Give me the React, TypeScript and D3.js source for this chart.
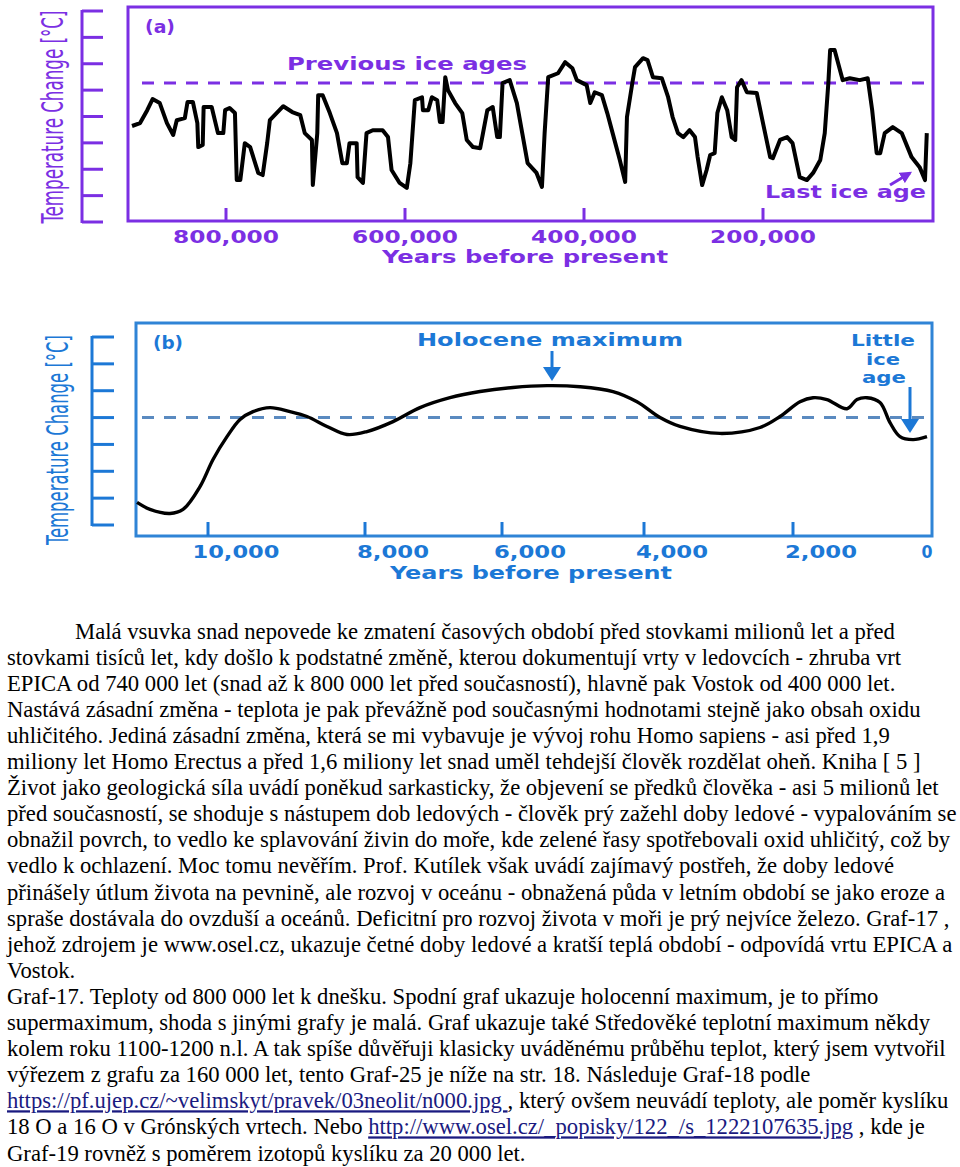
import React from 'react';
import * as d3 from 'd3';

// ---------- Data ----------
// Panel (a): thousands of years before present, temperature (tick units)
const epicaKyr = [905, 896, 888, 882, 874, 866, 859, 855, 846, 843, 837, 832, 831, 826, 825, 816, 809, 803, 801, 796, 790, 788, 784, 779, 773, 764, 759, 754, 751, 736, 726, 717, 712, 704, 703, 698, 697, 692, 684, 676, 670, 665, 662, 654, 653, 647, 643, 636, 625, 619, 615, 606, 598, 594, 589, 581, 580, 574, 570, 564, 561, 558, 555, 552, 544, 536, 531, 524, 516, 508, 502, 497, 494, 491, 483, 475, 469, 463, 453, 447, 444, 440, 429, 421, 413, 408, 397, 393, 388, 380, 374, 368, 360, 354, 352, 346, 343, 334, 329, 323, 313, 306, 301, 295, 289, 282, 276, 273, 268, 263, 259, 254, 251, 246, 240, 235, 231, 229, 224, 218, 207, 200, 192, 189, 181, 173, 167, 159, 151, 144, 136, 131, 127, 125, 120, 114, 111, 103, 92, 83, 78, 73, 69, 64, 55, 45, 34, 25, 19, 17];
const epicaTemp = [3.64, 3.75, 4.24, 4.66, 4.51, 3.75, 3.3, 3.86, 3.94, 4.55, 4.55, 3.75, 2.84, 2.92, 4.36, 4.36, 3.37, 3.37, 4.24, 4.32, 4.13, 1.59, 1.59, 2.99, 2.84, 1.86, 1.78, 2.99, 3.86, 4.39, 4.17, 4.05, 3.37, 3.11, 1.4, 3.37, 4.81, 4.81, 4.13, 3.37, 2.23, 2.23, 2.99, 2.99, 1.7, 1.48, 3.37, 3.48, 3.48, 3.22, 1.97, 1.48, 1.29, 2.23, 4.62, 4.73, 4.24, 4.24, 4.73, 4.62, 3.79, 3.79, 5.49, 5.0, 4.51, 4.13, 3.11, 2.84, 2.8, 4.24, 4.36, 3.22, 3.22, 5.27, 5.38, 4.51, 3.37, 2.23, 1.86, 1.33, 3.37, 5.49, 5.64, 6.06, 5.83, 5.38, 5.19, 4.51, 4.92, 4.81, 4.13, 3.37, 2.35, 1.52, 3.98, 5.27, 5.87, 6.21, 6.14, 5.49, 5.45, 4.73, 3.98, 3.37, 3.22, 3.48, 3.22, 2.46, 1.4, 1.97, 2.54, 2.61, 4.13, 4.73, 4.24, 3.22, 3.11, 5.11, 5.38, 4.92, 4.89, 3.75, 2.46, 2.42, 3.11, 3.22, 2.99, 1.7, 1.59, 1.86, 2.35, 3.37, 5.27, 6.52, 6.52, 5.76, 5.38, 5.45, 5.38, 5.45, 4.24, 2.61, 2.61, 3.37, 3.6, 3.37, 2.46, 2.08, 1.59, 3.37];
const previousIceAgeLevel = 5.27;

// Panel (b): years before present, temperature change (°C)
const holoceneYears = [10904, 10739, 10484, 10318, 10102, 9936, 9758, 9592, 9427, 9210, 8955, 8739, 8484, 8229, 7971, 7591, 7197, 6759, 6321, 5845, 5366, 4901, 4437, 4099, 3785, 3517, 2980, 2443, 2174, 1898, 1708, 1504, 1212, 1066, 920, 730, 584, 438, 248, 44];
const holoceneTemp = [-3.16, -3.42, -3.57, -3.42, -2.57, -1.56, -0.71, -0.07, 0.22, 0.37, 0.22, 0.04, -0.33, -0.63, -0.52, -0.15, 0.37, 0.74, 0.97, 1.12, 1.19, 1.15, 0.97, 0.59, 0.0, -0.33, -0.59, -0.37, 0.04, 0.59, 0.74, 0.67, 0.33, 0.67, 0.74, 0.56, -0.19, -0.71, -0.82, -0.71];
const holoceneLevel = 0;

// Axes
const xTicksA = [800, 600, 400, 200];
const yTicksA = [0, 1, 2, 3, 4, 5, 6, 7, 8];
const xTicksB = [10000, 8000, 6000, 4000, 2000, 0];
const yTicksB = [-4, -3, -2, -1, 0, 1, 2, 3];

const yLabel = 'Temperature Change [°C]';
const xLabel = 'Years before present';

// Body text
const bodyLines = [
  'Malá vsuvka snad nepovede ke zmatení časových období před stovkami milionů let a před',
  'stovkami tisíců let, kdy došlo k podstatné změně, kterou dokumentují vrty v ledovcích - zhruba vrt',
  'EPICA od 740 000 let (snad až k 800 000 let před současností), hlavně pak Vostok od 400 000 let.',
  'Nastává zásadní změna - teplota je pak převážně pod současnými hodnotami stejně jako obsah oxidu',
  'uhličitého. Jediná zásadní změna, která se mi vybavuje je vývoj rohu Homo sapiens - asi před 1,9',
  'miliony let Homo Erectus a před 1,6 miliony let snad uměl tehdejší člověk rozdělat oheň. Kniha [ 5 ]',
  'Život jako geologická síla uvádí poněkud sarkasticky, že objevení se předků člověka - asi 5 milionů let',
  'před současností, se shoduje s nástupem dob ledových - člověk prý zažehl doby ledové - vypalováním se',
  'obnažil povrch, to vedlo ke splavování živin do moře, kde zelené řasy spotřebovali oxid uhličitý, což by',
  'vedlo k ochlazení. Moc tomu nevěřím. Prof. Kutílek však uvádí zajímavý postřeh, že doby ledové',
  'přinášely útlum života na pevnině, ale rozvoj v oceánu - obnažená půda v letním období se jako eroze a',
  'spraše dostávala do ovzduší a oceánů. Deficitní pro rozvoj života v moři je prý nejvíce železo. Graf-17 ,',
  'jehož zdrojem je www.osel.cz, ukazuje četné doby ledové a kratší teplá období - odpovídá vrtu EPICA a',
  'Vostok.',
  'Graf-17. Teploty od 800 000 let k dnešku. Spodní graf ukazuje holocenní maximum, je to přímo',
  'supermaximum, shoda s jinými grafy je malá. Graf ukazuje také Středověké teplotní maximum někdy',
  'kolem roku 1100-1200 n.l. A tak spíše důvěřuji klasicky uváděnému průběhu teplot, který jsem vytvořil',
  'výřezem z grafu za 160 000 let, tento Graf-25 je níže na str. 18. Následuje Graf-18 podle',
  'https://pf.ujep.cz/~velimskyt/pravek/03neolit/n000.jpg , který ovšem neuvádí teploty, ale poměr kyslíku',
  '18 O a 16 O v Grónských vrtech. Nebo http://www.osel.cz/_popisky/122_/s_1222107635.jpg , kde je',
  'Graf-19 rovněž s poměrem izotopů kyslíku za 20 000 let.',
];
const bodyLinks = [
  'https://pf.ujep.cz/~velimskyt/pravek/03neolit/n000.jpg ',
  'http://www.osel.cz/_popisky/122_/s_1222107635.jpg',
];

// ---------- Styles ----------
const PURPLE = '#7b2fe3';
const BLUE = '#1c78d6';
const BLUE_FRAME = '#2f84d6';
const BLUE_DASH = '#5a8ac0';
const LINK = '#1a1a80';
const chartFont = '"DejaVu Sans", Verdana, sans-serif';
const narrowFont = '"Liberation Sans Narrow", "DejaVu Sans Condensed", "Liberation Sans", Arial, sans-serif';
const serif = '"Liberation Serif", "Times New Roman", serif';

function splitLine(line: string) {
  for (const l of bodyLinks) {
    const i = line.indexOf(l);
    if (i >= 0) return [{ t: line.slice(0, i), link: false }, { t: l, link: true }, { t: line.slice(i + l.length), link: false }];
  }
  return [{ t: line, link: false }];
}

export default function App() {
  // Panel (a)
  const xA = d3.scaleLinear().domain([800, 200]).range([226, 763]);
  const yA = d3.scaleLinear().domain([0, 8]).range([222, 11]);
  const lineA = d3
    .line<number>()
    .x((_, i) => xA(epicaKyr[i]))
    .y((d) => yA(d))
    .curve(d3.curveLinear);

  // Panel (b)
  const xB = d3.scaleLinear().domain(xTicksB).range([208, 365, 502, 644, 793, 930]);
  const yB = d3.scaleLinear().domain([-4, 3]).range([525, 337]);
  const lineB = d3
    .line<number>()
    .x((_, i) => xB(holoceneYears[i]))
    .y((d) => yB(d))
    .curve(d3.curveCatmullRom.alpha(0.5));

  const fmt = d3.format(',');

  const aFrame = { l: 128, t: 7, r: 933, b: 221 };
  const bFrame = { l: 136, t: 323, r: 932, b: 536 };

  const lineH = 26.1;
  const base0 = 638.5;

  return (
    <svg width={960} height={1167} style={{ position: 'absolute', left: 0, top: 0, background: '#fff' }}>
      <rect x={0} y={0} width={960} height={1167} fill="#fff" />
      <defs>
        <marker id="arrP" viewBox="0 0 10 10" refX="8" refY="5" markerWidth="4" markerHeight="4" orient="auto">
          <path d="M0,0 L10,5 L0,10 z" fill={PURPLE} />
        </marker>
      </defs>

      {/* ---------- Panel (a) ---------- */}
      <g>
        <text
          transform={`translate(63,${(10 + 224) / 2}) rotate(-90)`}
          textAnchor="middle"
          fontFamily={narrowFont}
          fontSize={31}
          fill={PURPLE}
          textLength={213}
          lengthAdjust="spacingAndGlyphs"
        >
          {yLabel}
        </text>
        <line x1={82} x2={82} y1={yA(8) - 1} y2={yA(0) + 1} stroke={PURPLE} strokeWidth={3} />
        {yTicksA.map((t) => (
          <line key={t} x1={82} x2={103} y1={yA(t)} y2={yA(t)} stroke={PURPLE} strokeWidth={3} />
        ))}
        <rect
          x={aFrame.l}
          y={aFrame.t}
          width={aFrame.r - aFrame.l}
          height={aFrame.b - aFrame.t}
          fill="none"
          stroke={PURPLE}
          strokeWidth={3}
        />
        <line
          x1={142}
          x2={aFrame.r}
          y1={yA(previousIceAgeLevel)}
          y2={yA(previousIceAgeLevel)}
          stroke={PURPLE}
          strokeWidth={3}
          strokeDasharray="12 10"
        />
        <path d={lineA(epicaTemp) || ''} fill="none" stroke="#000" strokeWidth={4} strokeLinejoin="round" />
        {xTicksA.map((t) => (
          <g key={t}>
            <line x1={xA(t)} x2={xA(t)} y1={aFrame.b} y2={aFrame.b - 13} stroke={PURPLE} strokeWidth={3} />
            <text
              x={xA(t)}
              y={243}
              textAnchor="middle"
              fontFamily={chartFont}
              fontWeight="bold"
              fontSize={18}
              fill={PURPLE}
              textLength={106}
              lengthAdjust="spacingAndGlyphs"
            >
              {fmt(t * 1000)}
            </text>
          </g>
        ))}
        <text x={525} y={263} textAnchor="middle" fontFamily={chartFont} fontWeight="bold" fontSize={18} fill={PURPLE} textLength={286} lengthAdjust="spacingAndGlyphs">
          {xLabel}
        </text>
        <text x={145} y={33} fontFamily={chartFont} fontWeight="bold" fontSize={17} fill={PURPLE} textLength={30} lengthAdjust="spacingAndGlyphs">
          (a)
        </text>
        <text x={287} y={70} fontFamily={chartFont} fontWeight="bold" fontSize={18} fill={PURPLE} textLength={240} lengthAdjust="spacingAndGlyphs">
          Previous ice ages
        </text>
        <text x={765} y={198} fontFamily={chartFont} fontWeight="bold" fontSize={18} fill={PURPLE} textLength={161} lengthAdjust="spacingAndGlyphs">
          Last ice age
        </text>
        <line x1={890} y1={185} x2={910} y2={173} stroke={PURPLE} strokeWidth={3} markerEnd="url(#arrP)" />
      </g>

      {/* ---------- Panel (b) ---------- */}
      <g>
        <text
          transform={`translate(68,${(335 + 545) / 2}) rotate(-90)`}
          textAnchor="middle"
          fontFamily={narrowFont}
          fontSize={31}
          fill={BLUE}
          textLength={210}
          lengthAdjust="spacingAndGlyphs"
        >
          {yLabel}
        </text>
        <line x1={92} x2={92} y1={yB(3) - 1} y2={yB(-4) + 1} stroke={BLUE} strokeWidth={3} />
        {yTicksB.map((t) => (
          <line key={t} x1={92} x2={114} y1={yB(t)} y2={yB(t)} stroke={BLUE} strokeWidth={3} />
        ))}
        <rect
          x={bFrame.l}
          y={bFrame.t}
          width={bFrame.r - bFrame.l}
          height={bFrame.b - bFrame.t}
          fill="none"
          stroke={BLUE_FRAME}
          strokeWidth={3}
        />
        <line
          x1={142}
          x2={bFrame.r}
          y1={yB(holoceneLevel)}
          y2={yB(holoceneLevel)}
          stroke={BLUE_DASH}
          strokeWidth={3}
          strokeDasharray="12 10"
        />
        <path d={lineB(holoceneTemp) || ''} fill="none" stroke="#000" strokeWidth={3.4} strokeLinejoin="round" />
        {xTicksB.map((t) => (
          <g key={t}>
            {t !== 0 && (
              <line x1={xB(t)} x2={xB(t)} y1={bFrame.b} y2={bFrame.b - 14} stroke={BLUE} strokeWidth={3} />
            )}
            <text
              x={t === 0 ? xB(t) - 3 : xB(t) + 28}
              y={558}
              textAnchor="middle"
              fontFamily={chartFont}
              fontWeight="bold"
              fontSize={18}
              fill={BLUE}
              textLength={t === 0 ? 11 : t >= 10000 ? 87 : 72}
              lengthAdjust="spacingAndGlyphs"
            >
              {fmt(t)}
            </text>
          </g>
        ))}
        <text x={531} y={579} textAnchor="middle" fontFamily={chartFont} fontWeight="bold" fontSize={18} fill={BLUE} textLength={282} lengthAdjust="spacingAndGlyphs">
          {xLabel}
        </text>
        <text x={153} y={349} fontFamily={chartFont} fontWeight="bold" fontSize={17} fill={BLUE} textLength={30} lengthAdjust="spacingAndGlyphs">
          (b)
        </text>
        <text x={417} y={346} fontFamily={chartFont} fontWeight="bold" fontSize={18} fill={BLUE} textLength={266} lengthAdjust="spacingAndGlyphs">
          Holocene maximum
        </text>
        <line x1={552} x2={552} y1={351} y2={370} stroke={BLUE} strokeWidth={3} />
        <path d="M543,367 L561,367 L552,381 Z" fill={BLUE} />
        <text x={883} y={346} textAnchor="middle" fontFamily={chartFont} fontWeight="bold" fontSize={16} fill={BLUE} textLength={64} lengthAdjust="spacingAndGlyphs">
          Little
        </text>
        <text x={883} y={365} textAnchor="middle" fontFamily={chartFont} fontWeight="bold" fontSize={16} fill={BLUE} textLength={34} lengthAdjust="spacingAndGlyphs">
          ice
        </text>
        <text x={884} y={383} textAnchor="middle" fontFamily={chartFont} fontWeight="bold" fontSize={16} fill={BLUE} textLength={44} lengthAdjust="spacingAndGlyphs">
          age
        </text>
        <line x1={910} x2={910} y1={387} y2={422} stroke={BLUE} strokeWidth={3} />
        <path d="M901,419 L919,419 L910,433 Z" fill={BLUE} />
      </g>

      {/* ---------- Body text ---------- */}
      <g fontFamily={serif} fontSize={22.67} fill="#000">
        {bodyLines.map((line, i) => (
          <text key={i} x={i === 0 ? 75 : 7} y={base0 + i * lineH} xmlSpace="preserve" style={{ whiteSpace: 'pre' }}>
            {splitLine(line).map((s, j) =>
              s.link ? (
                <tspan key={j} fill={LINK} textDecoration="underline">
                  {s.t}
                </tspan>
              ) : (
                <tspan key={j}>{s.t}</tspan>
              )
            )}
          </text>
        ))}
      </g>
    </svg>
  );
}
